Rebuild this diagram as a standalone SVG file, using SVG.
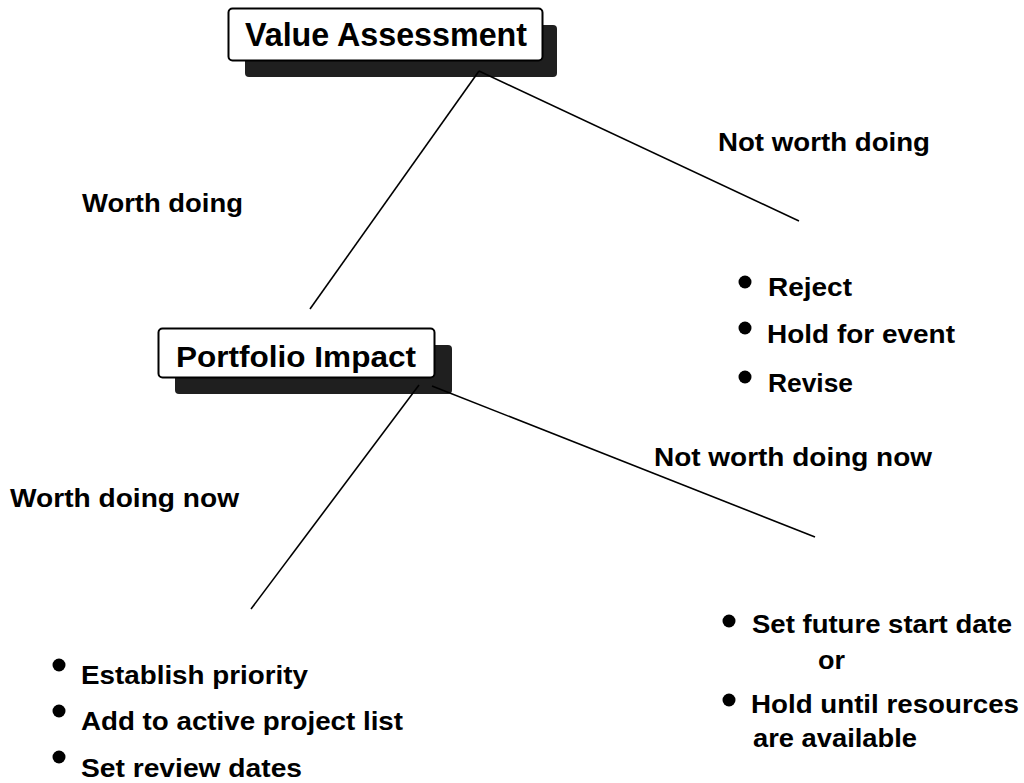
<svg xmlns="http://www.w3.org/2000/svg" width="1024" height="783" viewBox="0 0 1024 783">
  <style>
    .shadow { fill: #1f1f1f; }
    .box { fill: #ffffff; stroke: #000000; stroke-width: 2; }
    .title { font-family: "Liberation Sans", Arial, sans-serif; font-weight: bold; fill: #000000; }
    .label { font-family: "Liberation Sans", Arial, sans-serif; font-weight: bold; font-size: 26px; fill: #000000; }
    .link { stroke: #000000; stroke-width: 1.6; fill: none; }
    .dot { fill: #000000; }
  </style>
  <rect width="1024" height="783" fill="#ffffff"/>

  <!-- node shadows sit under the connectors -->
  <rect class="shadow" x="245" y="25" width="312" height="52" rx="4"/>
  <rect class="shadow" x="175" y="345" width="277" height="49" rx="4"/>

  <!-- connectors -->
  <g id="connectors">
    <line class="link" x1="479" y1="71" x2="310" y2="309"/>
    <line class="link" x1="479" y1="71" x2="799" y2="221"/>
    <line class="link" x1="419" y1="385" x2="251" y2="609"/>
    <line class="link" x1="432" y1="386" x2="815" y2="537"/>
  </g>

  <!-- decision nodes -->
  <g id="value-assessment">
    <rect class="box" x="228.5" y="8.5" width="314" height="52" rx="4"/>
    <text class="title" x="245" y="45.5" font-size="33" textLength="282" lengthAdjust="spacingAndGlyphs">Value Assessment</text>
  </g>
  <g id="portfolio-impact">
    <rect class="box" x="158.5" y="328.5" width="276" height="49" rx="4"/>
    <text class="title" x="176" y="366.5" font-size="29" textLength="240" lengthAdjust="spacingAndGlyphs">Portfolio Impact</text>
  </g>

  <!-- branch labels -->
  <g id="branch-labels">
    <text class="label" x="718" y="151" textLength="212" lengthAdjust="spacingAndGlyphs">Not worth doing</text>
    <text class="label" x="82" y="211.5" textLength="161" lengthAdjust="spacingAndGlyphs">Worth doing</text>
    <text class="label" x="654" y="466" textLength="278" lengthAdjust="spacingAndGlyphs">Not worth doing now</text>
    <text class="label" x="10" y="507" textLength="229" lengthAdjust="spacingAndGlyphs">Worth doing now</text>
  </g>

  <!-- outcomes when not worth doing -->
  <g id="reject-options">
    <circle class="dot" cx="745" cy="282" r="6.5"/>
    <text class="label" x="768" y="296" textLength="84" lengthAdjust="spacingAndGlyphs">Reject</text>
    <circle class="dot" cx="745" cy="328" r="6.5"/>
    <text class="label" x="767" y="343" textLength="188" lengthAdjust="spacingAndGlyphs">Hold for event</text>
    <circle class="dot" cx="745" cy="377" r="6.5"/>
    <text class="label" x="768" y="392" textLength="85" lengthAdjust="spacingAndGlyphs">Revise</text>
  </g>

  <!-- outcomes when worth doing now -->
  <g id="active-options">
    <circle class="dot" cx="59" cy="665" r="6.5"/>
    <text class="label" x="81" y="684" textLength="227" lengthAdjust="spacingAndGlyphs">Establish priority</text>
    <circle class="dot" cx="59" cy="711" r="6.5"/>
    <text class="label" x="81" y="730" textLength="322" lengthAdjust="spacingAndGlyphs">Add to active project list</text>
    <circle class="dot" cx="59" cy="757" r="6.5"/>
    <text class="label" x="81" y="777" textLength="221" lengthAdjust="spacingAndGlyphs">Set review dates</text>
  </g>

  <!-- outcomes when not worth doing now -->
  <g id="deferred-options">
    <circle class="dot" cx="729" cy="621" r="6.5"/>
    <text class="label" x="752" y="633" textLength="260" lengthAdjust="spacingAndGlyphs">Set future start date</text>
    <text class="label" x="818" y="669" textLength="27" lengthAdjust="spacingAndGlyphs">or</text>
    <circle class="dot" cx="729" cy="700" r="6.5"/>
    <text class="label" x="751" y="713" textLength="268" lengthAdjust="spacingAndGlyphs">Hold until resources</text>
    <text class="label" x="753" y="747" textLength="164" lengthAdjust="spacingAndGlyphs">are available</text>
  </g>
</svg>
